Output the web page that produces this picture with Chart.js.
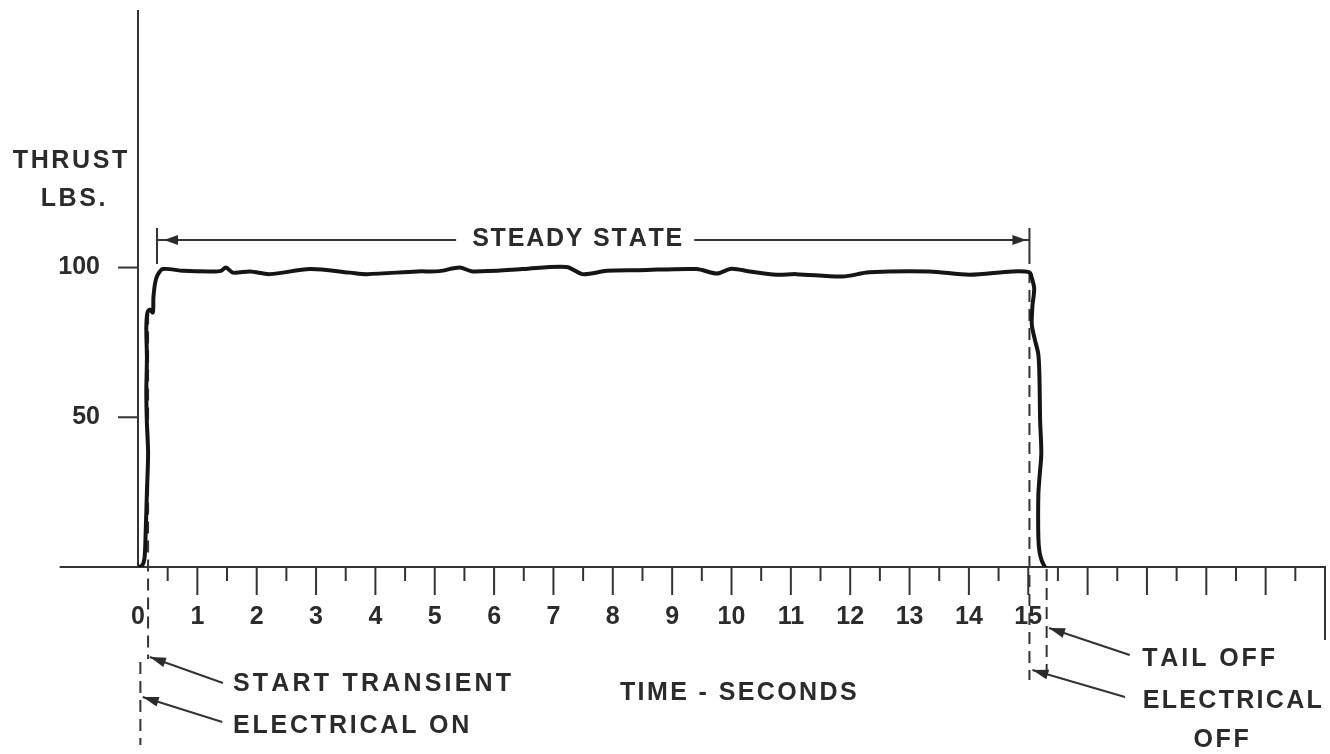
<!DOCTYPE html>
<html><head><meta charset="utf-8">
<script src="https://cdn.jsdelivr.net/npm/chart.js@4.4.1/dist/chart.umd.min.js"></script>
<style>html,body{margin:0;padding:0;background:#fff;}canvas{display:block;}</style>
</head><body>
<canvas id="c" width="1330" height="754"></canvas>
<script>
// ---- data ----
const timeSec = [0, 0.07, 0.11, 0.13, 0.15, 0.17, 0.15, 0.14, 0.15, 0.14, 0.16, 0.20, 0.25, 0.26, 0.29, 0.33, 0.42,
  0.76, 1.21, 1.40, 1.48, 1.60, 1.89, 2.22, 2.90, 3.57, 3.86, 4.70, 5.08, 5.42, 5.64, 6.48, 7.22, 7.49, 7.90,
  8.45, 9.41, 9.75, 10.0, 10.30, 10.76, 11.09, 11.87, 12.32, 13.33, 14.01, 14.73, 15.02,
  15.06, 15.10, 15.07, 15.06, 15.11, 15.17, 15.19, 15.20, 15.22, 15.19, 15.17, 15.17, 15.19, 15.23, 15.28];
const thrustLbs = [0, 0.5, 3, 12, 25, 38, 48, 58, 70, 80, 85, 86, 85, 90, 95, 97.5, 99.5,
  98.9, 98.7, 98.9, 100.0, 98.3, 98.7, 97.8, 99.5, 98.3, 97.8, 98.7, 98.8, 100.0, 98.7, 99.5, 100.2, 97.8, 98.9,
  99.1, 99.5, 98.0, 99.6, 98.7, 97.6, 97.8, 97.0, 98.4, 98.7, 97.6, 98.7, 98.4,
  96.5, 93, 87, 81, 76, 71, 62, 49, 38, 30, 24, 10, 5, 2, 0];
const xLabelTicks = [0,1,2,3,4,5,6,7,8,9,10,11,12,13,14,15];
const xTickLabels = ['0','1','2','3','4','5','6','7','8','9','10','11','12','13','14','15'];
const xAxisMax = 20;
const yTicks = [50, 100];
const yTickLabels = ['50', '100'];
const yAxisMax = 186;
const yTitle = ['THRUST', 'LBS.'];
const xTitle = 'TIME - SECONDS';
const steadyLabel = 'STEADY STATE';
const startLabel = 'START TRANSIENT';
const elecOnLabel = 'ELECTRICAL ON';
const tailLabel = 'TAIL OFF';
const elecOffLabel = ['ELECTRICAL', 'OFF'];
const eventT = { electricalOn: 0.04, startTransient: 0.17, steadyStart: 0.32, steadyEnd: 15.02, tailOff: 15.31 };
const steadyArrowLbs = 109.2;

const INK = '#2b2b2b';
const FONT = 'bold 25px "Liberation Sans", Arial, sans-serif';

function spaced(ctx, text, x, y, sp, align) {
  const chars = [...text];
  const w = chars.map(c => ctx.measureText(c).width);
  const total = w.reduce((a, b) => a + b, 0) + sp * (chars.length - 1);
  let cx = align === 'center' ? x - total / 2 : align === 'right' ? x - total : x;
  ctx.textAlign = 'left'; ctx.textBaseline = 'middle';
  chars.forEach((c, i) => { ctx.fillText(c, cx, y); cx += w[i] + sp; });
  return total;
}
function line(ctx, x1, y1, x2, y2, dash) {
  ctx.setLineDash(dash || []);
  ctx.beginPath(); ctx.moveTo(x1, y1); ctx.lineTo(x2, y2); ctx.stroke();
  ctx.setLineDash([]);
}
function arrowHead(ctx, tx, ty, fx, fy, len, half) {
  const a = Math.atan2(ty - fy, tx - fx);
  ctx.beginPath();
  ctx.moveTo(tx, ty);
  ctx.lineTo(tx - len * Math.cos(a) + half * Math.sin(a), ty - len * Math.sin(a) - half * Math.cos(a));
  ctx.lineTo(tx - len * Math.cos(a) - half * Math.sin(a), ty - len * Math.sin(a) + half * Math.cos(a));
  ctx.closePath(); ctx.fill();
}
function arrow(ctx, fx, fy, tx, ty) {
  line(ctx, fx, fy, tx, ty);
  arrowHead(ctx, tx, ty, fx, fy, 16, 5);
}

const decor = {
  id: 'decor',
  beforeDatasetsDraw(chart) {
    const { ctx, chartArea: ca } = chart;
    const xs = chart.scales.x, ys = chart.scales.y;
    const X = v => xs.getPixelForValue(v), Y = v => ys.getPixelForValue(v);
    const x0 = X(0), y0 = Y(0);
    ctx.save();
    ctx.strokeStyle = '#333'; ctx.fillStyle = INK; ctx.lineWidth = 2;
    // axes
    line(ctx, x0, ca.top, x0, y0);
    line(ctx, X(-1.32), y0, X(xAxisMax) + 1, y0);
    line(ctx, X(xAxisMax), y0, X(xAxisMax), y0 + 73);
    for (let v = 0.5; v < xAxisMax; v += 0.5) {
      const major = Math.abs(v - Math.round(v)) < 1e-6;
      line(ctx, X(v), y0, X(v), y0 + (major ? 28 : 14));
    }
    yTicks.forEach(v => line(ctx, x0 - 20, Y(v), x0, Y(v)));
    // dashed event lines
    const dash = [12, 7];
    line(ctx, X(eventT.startTransient), Y(85), X(eventT.startTransient), y0 + 92, dash);
    line(ctx, X(eventT.electricalOn), y0 + 95, X(eventT.electricalOn), y0 + 178, dash);
    line(ctx, X(eventT.tailOff), y0 + 2, X(eventT.tailOff), y0 + 105, dash);
    const ya = Y(steadyArrowLbs);
    line(ctx, X(eventT.steadyEnd), ya + 12, X(eventT.steadyEnd), y0 + 113, dash);
    line(ctx, X(eventT.steadyStart), ya + 12, X(eventT.steadyStart), Y(99.5), dash);
    // steady state arrow
    const xl = X(eventT.steadyStart), xr = X(eventT.steadyEnd);
    line(ctx, xl, ya - 12, xl, ya + 12);
    line(ctx, xr, ya - 12, xr, ya + 12);
    ctx.font = FONT;
    const cxT = X(7.4);
    const tw = spaced(ctx, steadyLabel, cxT, ya - 1, 1.8, 'center');
    line(ctx, xl, ya, cxT - tw / 2 - 16, ya);
    line(ctx, cxT + tw / 2 + 12, ya, xr, ya);
    arrowHead(ctx, xl + 7, ya, xl + 30, ya, 14, 5);
    arrowHead(ctx, xr - 3, ya, xr - 30, ya, 14, 5);
    // annotation arrows
    arrow(ctx, X(1.43), y0 + 116, X(0.2), y0 + 90);
    arrow(ctx, X(1.42), y0 + 155, X(0.08), y0 + 130);
    arrow(ctx, X(16.71), y0 + 88, X(15.35), y0 + 61);
    arrow(ctx, X(16.63), y0 + 130, X(15.07), y0 + 103);
    // texts
    ctx.font = FONT; ctx.fillStyle = INK;
    spaced(ctx, yTitle[0], x0 - 68, Y(135.6), 2.6, 'center');
    spaced(ctx, yTitle[1], x0 - 65, Y(122.9), 2.6, 'center');
    spaced(ctx, startLabel, X(1.60), y0 + 117, 3.2, 'left');
    spaced(ctx, elecOnLabel, X(1.60), y0 + 159, 2.8, 'left');
    spaced(ctx, xTitle, X(8.12), y0 + 126, 2.4, 'left');
    spaced(ctx, tailLabel, X(16.92), y0 + 92, 2.9, 'left');
    spaced(ctx, elecOffLabel[0], X(16.93), y0 + 134, 2.3, 'left');
    spaced(ctx, elecOffLabel[1], X(18.25), y0 + 173, 2.6, 'center');
    ctx.restore();
  }
};

new Chart(document.getElementById('c'), {
  type: 'scatter',
  data: {
    datasets: [{
      data: timeSec.map((t, i) => ({ x: t, y: thrustLbs[i] })),
      showLine: true, borderColor: '#151515', borderWidth: 4, pointRadius: 0,
      tension: 0.3, borderJoinStyle: 'round', borderCapStyle: 'round', fill: false
    }]
  },
  options: {
    responsive: false, animation: false,
    layout: { padding: { left: 0, top: 10, right: 5, bottom: 0 } },
    plugins: { legend: { display: false }, tooltip: { enabled: false } },
    scales: {
      x: {
        type: 'linear', min: 0, max: xAxisMax, position: 'bottom',
        grid: { display: false, drawTicks: false }, border: { display: false },
        afterBuildTicks: s => { s.ticks = xLabelTicks.map(v => ({ value: v })); },
        afterFit: s => { s.height = 187; s.paddingLeft = 0; s.paddingRight = 0; },
        ticks: {
          autoSkip: false, maxRotation: 0, minRotation: 0, padding: 35, color: INK,
          font: { family: '"Liberation Sans", Arial, sans-serif', size: 25, weight: 'bold' },
          callback: v => { const i = xLabelTicks.indexOf(v); return i >= 0 ? xTickLabels[i] : ''; }
        }
      },
      y: {
        type: 'linear', min: 0, max: yAxisMax,
        grid: { display: false, drawTicks: false }, border: { display: false },
        afterBuildTicks: s => { s.ticks = yTicks.map(v => ({ value: v })); },
        afterFit: s => { s.width = 138; s.paddingTop = 0; s.paddingBottom = 0; },
        ticks: {
          padding: 38, color: INK,
          font: { family: '"Liberation Sans", Arial, sans-serif', size: 25, weight: 'bold' },
          callback: v => { const i = yTicks.indexOf(v); return i >= 0 ? yTickLabels[i] : ''; }
        }
      }
    }
  },
  plugins: [decor]
});
</script>
</body></html>
